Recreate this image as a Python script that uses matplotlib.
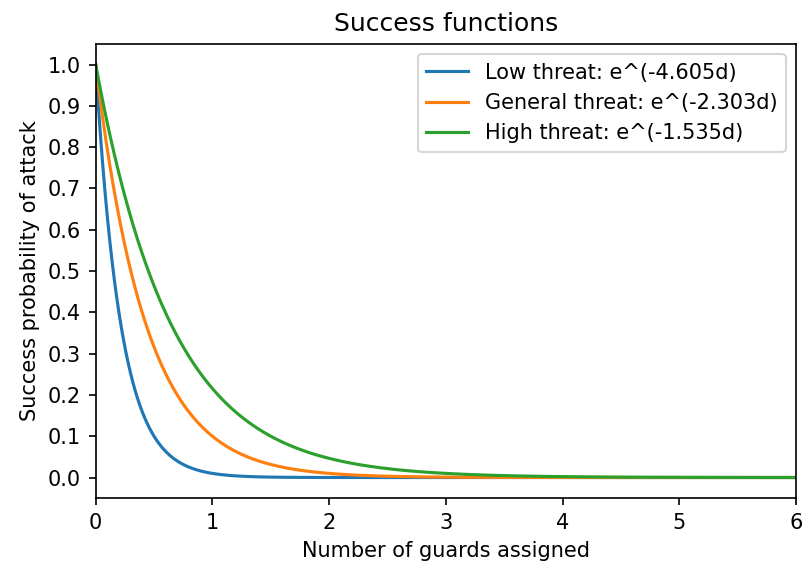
import matplotlib.pyplot as plt
import numpy as np

# decay rates of the three success functions
labels = ["Low threat", "General threat", "High threat"]
rates = [4.605, 2.303, 1.535]

d = np.linspace(0, 6, 601)

dpi = 150
fig = plt.figure(figsize=(804 / dpi, 570 / dpi), dpi=dpi)
ax = fig.add_axes([0.119, 0.126, 0.871, 0.797])

for name, k in zip(labels, rates):
    ax.plot(d, np.exp(-k * d), label="%s: e^(-%.3fd)" % (name, k))

ax.set_xlim(0, 6)
ax.set_yticks(np.arange(0, 1.01, 0.1))
ax.set_title("Success functions")
ax.set_xlabel("Number of guards assigned")
ax.set_ylabel("Success probability of attack")
ax.legend(loc="upper right")

fig.savefig("out.png", dpi=dpi)
